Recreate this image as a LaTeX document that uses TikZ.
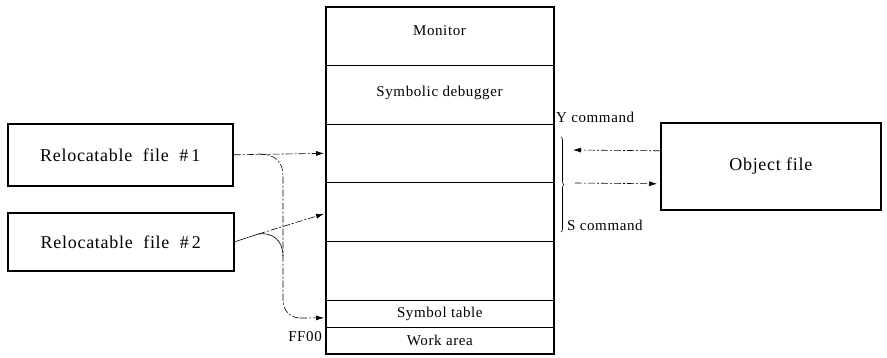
\documentclass[tikz,border=0pt]{standalone}
\usepackage{fontspec}
\setmainfont{Liberation Serif}[LetterSpace=4]
\usetikzlibrary{arrows.meta,decorations.pathreplacing,calc}

\begin{document}
\begin{tikzpicture}[x=1pt,y=-1pt,
  font=\fontsize{15}{18}\selectfont,
  filebox/.style={draw,line width=1.6pt,inner sep=0pt,anchor=north west,
    font=\fontsize{18}{21}\selectfont},
  memseg/.style={draw,line width=0.7pt,inner sep=0pt,minimum width=227pt,anchor=north west},
  link/.style={line width=0.6pt,dash pattern=on 7pt off 2pt on 2pt off 2pt},
  tip/.style={-{Latex[length=8pt,width=5pt]}},
  lbl/.style={inner sep=0pt}]
\useasboundingbox (0,0) rectangle (887,357);

% memory map column
\node[memseg,minimum height=58pt] (monitor) at (326,7) {};
\node[lbl] at (439.5,31) {Monitor};
\node[memseg,minimum height=59pt] (dbg) at (326,65) {};
\node[lbl] at (439.5,93) {Symbolic debugger};
\node[memseg,minimum height=58pt] (s1) at (326,124) {};
\node[memseg,minimum height=59pt] (s2) at (326,182) {};
\node[memseg,minimum height=59pt] (s3) at (326,241) {};
\node[memseg,minimum height=27pt] (symtab) at (326,300) {Symbol table};
\node[memseg,minimum height=26pt] (work) at (326,327) {Work area};
\draw[line width=1.6pt] (monitor.north west) rectangle (work.south east);
\node[lbl,anchor=east] (ff) at (322,337) {FF00};

% source and object files
\node[filebox,minimum width=225pt,minimum height=62pt] (rel1) at (7,123) {Relocatable\ \ file\ \ \#\,1};
\node[filebox,minimum width=226pt,minimum height=58pt] (rel2) at (7,212) {Relocatable\ \ file\ \ \#\,2};
\node[filebox,minimum width=220pt,minimum height=87pt] (obj) at (660,122) {Object\ file};

% loading paths
\coordinate (b1) at (258,154);
\coordinate (b2) at ($(rel2.east)!0.26!(s2.west)$);
\draw[link,tip] (rel1.east) -- ([xshift=-2pt]s1.west);
\draw[link] (b1) .. controls (276,154) and (283,162) .. (283,176) -- (283,300)
  .. controls (283,312) and (292,318) .. (300,318);
\draw[link,tip] (300,318) -- ([xshift=-2pt,yshift=-4pt]symtab.west);
\draw[line width=0.6pt] (rel2.east) -- (b2);
\draw[link,tip] (b2) -- ([xshift=-2pt,yshift=-2pt]s2.west);
\draw[line width=0.6pt] (b2) .. controls (272,232) and (283,240) .. (283,256);

% Y / S commands
\coordinate (ytip) at (573,150);
\coordinate (sstart) at (575,183);
\draw[link,tip] ([yshift=15.5pt]obj.west) -- (ytip);
\draw[link,tip] (sstart) -- ([yshift=-17.5pt,xshift=-3pt]obj.west);
\draw[line width=0.6pt,decorate,decoration={brace,amplitude=3pt}] (561,137) -- (561,232);
\node[lbl,anchor=west] (ycmd) at (556,117) {Y command};
\node[lbl,anchor=west] (scmd) at (567,225) {S command};
\end{tikzpicture}
\end{document}
